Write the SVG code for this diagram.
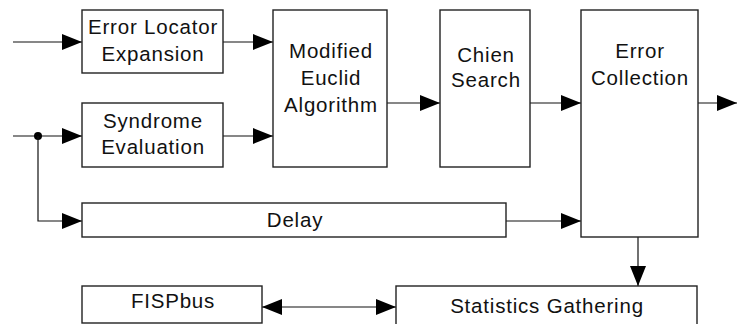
<svg xmlns="http://www.w3.org/2000/svg" width="737" height="324" viewBox="0 0 737 324">
<defs>
<marker id="ah" markerUnits="userSpaceOnUse" markerWidth="20" markerHeight="16" refX="20" refY="8" orient="auto-start-reverse" viewBox="0 0 20 16">
<path d="M0,0 L20,8 L0,16 z" fill="#000"/>
</marker>
<style>
.box{fill:#fff;stroke:#222;stroke-width:1.4}
.ln{fill:none;stroke:#111;stroke-width:1.2}
.ar{marker-end:url(#ah)}
text{font-family:"Liberation Sans",Arial,sans-serif;font-size:20.5px;letter-spacing:0.8px;fill:#111;text-anchor:middle}
</style>
</defs>
<rect width="737" height="324" fill="#fff"/>
<g id="connectors">
<line class="ln ar" x1="13" y1="42" x2="82" y2="42"/>
<line class="ln ar" x1="13" y1="136" x2="82" y2="136"/>
<circle cx="38" cy="136" r="4" fill="#000"/>
<polyline class="ln ar" points="38,136 38,221 82,221"/>
<line class="ln ar" x1="223" y1="42" x2="273" y2="42"/>
<line class="ln ar" x1="223" y1="136" x2="273" y2="136"/>
<line class="ln ar" x1="387" y1="103" x2="440" y2="103"/>
<line class="ln ar" x1="530" y1="103" x2="581" y2="103"/>
<line class="ln ar" x1="698" y1="103" x2="737" y2="103"/>
<line class="ln ar" x1="506" y1="221" x2="581" y2="221"/>
<line class="ln ar" x1="638" y1="237" x2="638" y2="286"/>
<line class="ln" x1="262" y1="307" x2="396" y2="307" marker-start="url(#ah)" marker-end="url(#ah)"/>
</g>
<g id="ele">
<rect class="box" x="82" y="10" width="141" height="63"/>
<text x="153" y="34">Error Locator</text>
<text x="153" y="61">Expansion</text>
</g>
<g id="se">
<rect class="box" x="82" y="103" width="141" height="64"/>
<text x="153" y="128">Syndrome</text>
<text x="153" y="154">Evaluation</text>
</g>
<g id="mea">
<rect class="box" x="273" y="10" width="114" height="157"/>
<text x="331" y="58">Modified</text>
<text x="331" y="85">Euclid</text>
<text x="331" y="112">Algorithm</text>
</g>
<g id="chien">
<rect class="box" x="440" y="10" width="90" height="157"/>
<text x="486" y="62">Chien</text>
<text x="486" y="87">Search</text>
</g>
<g id="ec">
<rect class="box" x="581" y="10" width="117" height="227"/>
<text x="640" y="58">Error</text>
<text x="640" y="85">Collection</text>
</g>
<g id="delay">
<rect class="box" x="82" y="203" width="424" height="34"/>
<text x="295" y="227">Delay</text>
</g>
<g id="fispbus">
<rect class="box" x="82" y="286" width="180" height="37"/>
<text x="173" y="308">FISPbus</text>
</g>
<g id="stats">
<rect class="box" x="396" y="286" width="301" height="40"/>
<text x="547" y="313">Statistics Gathering</text>
</g>
</svg>
